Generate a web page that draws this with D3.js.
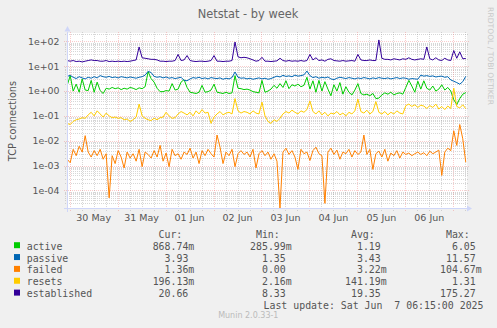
<!DOCTYPE html>
<html>
<head>
<meta charset="utf-8">
<script src="https://cdn.jsdelivr.net/npm/d3@7"></script>
<style>
  body { margin: 0; background: #f0f0f0; }
  svg { display: block; }
</style>
</head>
<body>
<svg id="chart" width="497" height="328"></svg>
<script>
// ---- series (samples every 90 minutes, ending at the last update) ----
const seriesNames  = ["active", "passive", "failed", "resets", "established"];
const seriesColors = ["#00CC00", "#0066B3", "#FF8000", "#FFCC00", "#330099"];
const sampleStart = Date.UTC(2025, 4, 29, 22, 45);
const sampleStepMinutes = 90;

const active = [1.7,4.2,1.0,1.9,0.9,3.1,1.1,1.05,2.7,0.9,
  2.3,1.05,0.8,1.3,1.2,1.4,1.25,1.35,1.15,1.3,
  1.2,1.4,1.3,1.15,1.35,1.25,1.5,6.05,3.2,2.3,
  1.3,0.95,0.95,1.05,1.0,2.0,1.1,1.2,2.3,2.9,
  1.4,0.9,0.85,0.8,0.9,1.7,0.9,0.95,1.1,1.9,
  0.9,0.85,0.8,0.9,0.8,0.85,4.2,1.3,1.25,1.15,
  1.2,1.1,0.95,0.9,0.85,2.7,0.9,1.0,1.2,1.7,
  1.3,2.0,1.4,2.6,1.25,1.8,1.6,1.9,1.5,1.7,
  3.6,1.2,2.6,0.9,2.7,1.0,2.4,1.2,0.65,1.8,
  1.0,2.2,0.75,1.5,0.9,0.7,1.1,2.0,0.8,0.7,
  0.75,0.65,0.8,0.5,0.52,0.7,0.85,0.75,0.9,0.7,
  0.8,0.85,0.75,1.4,2.7,1.6,0.9,2.5,1.2,2.6,
  1.3,1.1,1.6,1.0,1.2,1.8,1.1,1.4,1.0,0.45,
  0.286,0.5,0.75,0.86874];

const passive = [3.9,4.3,3.6,3.2,3.8,3.4,3.1,3.6,3.3,3.8,
  3.4,4.2,3.8,3.6,3.9,3.5,3.7,3.4,3.8,3.6,
  3.4,3.7,3.5,3.3,3.6,3.8,4.4,6.2,5.6,3.9,
  3.6,3.8,3.4,3.7,3.3,3.5,3.2,3.4,3.6,2.7,
  2.6,3.1,3.5,3.3,3.6,3.2,3.4,3.1,3.5,3.3,
  3.2,3.4,3.0,3.3,3.1,3.5,5.9,3.6,3.3,3.4,
  3.1,3.3,3.0,3.2,3.4,3.1,3.3,3.0,3.2,3.6,
  4.0,3.7,4.3,3.9,4.1,3.8,4.4,4.0,4.2,4.5,
  6.4,4.2,3.5,3.8,3.3,3.6,3.4,3.7,3.1,2.9,
  3.3,3.6,3.4,3.2,3.5,3.3,3.1,3.4,3.2,3.5,
  3.3,3.1,3.4,3.2,3.5,3.3,3.2,3.4,3.1,3.3,
  3.5,3.2,3.4,3.3,3.0,3.2,3.1,3.0,4.4,4.0,
  4.2,3.9,4.1,3.7,3.9,4.0,3.6,3.8,2.8,2.5,
  2.2,1.9,2.4,3.93];

const failed = [0.0018,0.0013,0.0045,0.0025,0.006,0.0035,0.016,0.0035,0.0022,0.004,
  0.0025,0.0045,0.0018,0.003,0.00005,0.0025,0.0012,0.004,0.0022,0.0008,
  0.0035,0.002,0.003,0.0015,0.0045,0.0009,0.0035,0.0028,0.002,0.004,
  0.0022,0.0065,0.0015,0.0032,0.0009,0.0045,0.0025,0.003,0.0018,0.0035,
  0.0028,0.005,0.002,0.0035,0.0012,0.004,0.0025,0.0045,0.003,0.0022,
  0.017,0.0055,0.0012,0.0035,0.0025,0.0045,0.0009,0.003,0.004,0.0028,
  0.0035,0.0022,0.0045,0.0008,0.003,0.004,0.0025,0.0035,0.0018,0.003,
  0.0015,0,0.0035,0.005,0.0028,0.004,0.0022,0.0007,0.0045,0.003,
  0.0035,0.0016,0.004,0.0055,0.003,0.0025,0.00003,0.0035,0.005,0.0028,
  0.0042,0.0018,0.0035,0.003,0.0045,0.0022,0.004,0.0028,0.0035,0.017,
  0.0028,0.0045,0.0007,0.003,0.0038,0.0022,0.0045,0.0015,0.0032,0.0025,
  0.004,0.002,0.0035,0.0028,0.0032,0.0025,0.003,0.0035,0.0028,0.0033,
  0.0025,0.0038,0.003,0.0035,0.0042,0.0004,0.0035,0.005,0.004,0.025,
  0.0065,0.045,0.012,0.00136];

const resets = [0.05,0.045,0.06,0.07,0.075,0.085,0.08,0.11,0.14,0.1,
  0.16,0.12,0.09,0.13,0.1,0.085,0.09,0.08,0.085,0.07,
  0.075,0.06,0.07,0.09,0.3,0.1,0.08,0.07,0.065,0.08,
  0.07,0.085,0.09,0.14,0.1,0.08,0.085,0.12,0.15,0.13,
  0.11,0.14,0.1,0.16,0.12,0.18,0.13,0.14,0.05,0.09,
  0.12,0.15,0.11,0.13,0.14,0.12,0.5,0.16,0.13,0.15,
  0.14,0.12,0.16,0.13,0.12,0.36,0.1,0.06,0.05,0.07,
  0.06,0.08,0.12,0.15,0.13,0.17,0.14,0.12,0.16,0.14,
  0.18,0.4,0.15,0.12,0.16,0.11,0.14,0.1,0.13,0.12,
  0.15,0.11,0.13,0.1,0.14,0.12,0.16,0.48,0.15,0.13,
  0.17,0.12,0.15,0.38,0.14,0.12,0.15,0.11,0.14,0.12,
  0.16,0.13,0.12,0.26,0.3,0.24,0.28,0.22,0.27,0.25,
  0.2,0.26,0.22,0.3,0.19,0.24,0.18,0.25,0.2,1.31,
  0.24,0.21,0.28,0.19613];

const established = [17,16,17,15.5,16,15,16,17,18,17,
  17,16,16,17,15.5,16,15.5,16,15.5,16,
  15.5,16,17,18,60,22,21,20,19,19,
  18,16,16,15.5,16,16,17,30,17,18,
  27,17,16,15.5,16,16,15.5,16,17,27,
  16,16,15.5,16,16,17,95,24,22,23,
  22,20,18,16,17,23,16,16,15.5,16,
  16.5,21,17,16,17,16,16.5,16,17,16,
  17,30,18,22,17,18,16,19,20,17,
  16.5,16,17,16,16.5,17,16,30,18,17,
  17,18,17,17,115,21,19,19,18,20,
  19,18,20,19,22,19,18,19,20,19,
  60,20,18,22,18,17,21,18,17,43,
  21,38,20,20.66];

// ---- legend statistics ----
const legendHeaders = ["Cur:", "Min:", "Avg:", "Max:"];
const legendMin = ["285.99m", "1.35", "0.00", "2.16m", "8.33"];
const legendAvg = ["1.19", "3.43", "3.22m", "141.19m", "19.35"];
const legendMax = ["6.05", "11.57", "104.67m", "1.31", "175.27"];

// ---- axis ticks ----
const yTickValues = [1e2, 1e1, 1e0, 1e-1, 1e-2, 1e-3, 1e-4];
const yTickLabels = ["1e+02", "1e+01", "1e+00", "1e-01", "1e-02", "1e-03", "1e-04"];
const xLabelDays = ["2025-05-30", "2025-05-31", "2025-06-01", "2025-06-02",
                    "2025-06-03", "2025-06-04", "2025-06-05", "2025-06-06"];

const titleText = "Netstat - by week";
const yAxisTitle = "TCP connections";
const lastUpdate = "Last update: Sat Jun  7 06:15:00 2025";
const sideNote = "RRDTOOL / TOBI OETIKER";
const footer = "Munin 2.0.33-1";

// ---- layout ----
const svg = d3.select("#chart");
const W = 497, H = 328;
const plot = { left: 67, right: 467, top: 33.5, bottom: 208.5 };
const sansFont = "'DejaVu Sans', sans-serif";
const monoFont = "'DejaVu Sans Mono', monospace";
const textColor = "#555";
const axisColor = "#CFD6F8";

svg.append("rect").attr("width", W).attr("height", H).attr("fill", "#f0f0f0");
svg.append("rect")
  .attr("x", plot.left).attr("y", plot.top - 0.5)
  .attr("width", plot.right - plot.left).attr("height", plot.bottom - plot.top + 0.5)
  .attr("fill", "#ffffff");

const x = d3.scaleUtc()
  .domain([Date.UTC(2025, 4, 29, 22, 39), Date.UTC(2025, 5, 7, 6, 52)])
  .range([plot.left, plot.right]);
const y = d3.scaleLog()
  .domain([Math.pow(10, -4.73), Math.pow(10, 2.32)])
  .range([plot.bottom, plot.top]);

// ---- grid ----
const grid = svg.append("g").attr("shape-rendering", "crispEdges");
const minorGrid = "rgba(150,150,150,0.38)";
const majorGrid = "rgba(240,110,110,0.35)";

// horizontal: 2..9 minor lines in each decade, decades as major lines
for (let k = -5; k <= 2; k++) {
  for (let m = 2; m <= 9; m++) {
    const v = m * Math.pow(10, k);
    const yy = y(v);
    if (yy < plot.top || yy > plot.bottom) continue;
    const py = Math.round(yy) + 0.5;
    grid.append("line").attr("x1", plot.left - 2).attr("x2", plot.right + 2)
      .attr("y1", py).attr("y2", py)
      .attr("stroke", minorGrid).attr("stroke-dasharray", "1,1");
  }
}
yTickValues.forEach(v => {
  const py = Math.round(y(v)) + 0.5;
  grid.append("line").attr("x1", plot.left - 3).attr("x2", plot.right + 3)
    .attr("y1", py).attr("y2", py)
    .attr("stroke", majorGrid).attr("stroke-dasharray", "1,1");
});

// vertical: every 6 hours minor, midnight major
const sixHours = d3.utcHour.every(6).range(x.domain()[0], x.domain()[1]);
sixHours.forEach(t => {
  const px = Math.round(x(t)) + 0.5;
  const isMidnight = t.getUTCHours() === 0;
  grid.append("line").attr("x1", px).attr("x2", px)
    .attr("y1", plot.top - 2).attr("y2", plot.bottom + (isMidnight ? 3 : 2))
    .attr("stroke", isMidnight ? majorGrid : minorGrid)
    .attr("stroke-dasharray", "1,1");
});

// ---- series lines ----
svg.append("clipPath").attr("id", "plotClip")
  .append("rect").attr("x", plot.left).attr("y", plot.top - 0.5)
  .attr("width", plot.right - plot.left + 1).attr("height", plot.bottom - plot.top + 1);

const seriesData = [active, passive, failed, resets, established];
const floorValue = y.domain()[0];
const line = d3.line()
  .x((d, i) => x(new Date(sampleStart + i * sampleStepMinutes * 60000)))
  .y(d => y(Math.max(d, floorValue)));

const lines = svg.append("g").attr("clip-path", "url(#plotClip)");
seriesData.forEach((values, s) => {
  lines.append("path")
    .datum(values)
    .attr("d", line)
    .attr("fill", "none")
    .attr("stroke", seriesColors[s])
    .attr("stroke-width", 1)
    .attr("stroke-linejoin", "round");
});

// ---- axes ----
const axes = svg.append("g").attr("shape-rendering", "crispEdges");
axes.append("line").attr("x1", plot.left - 3).attr("x2", plot.right + 1)
  .attr("y1", plot.bottom).attr("y2", plot.bottom).attr("stroke", axisColor);
axes.append("line").attr("x1", plot.left + 0.5).attr("x2", plot.left + 0.5)
  .attr("y1", plot.bottom + 3).attr("y2", plot.top - 2).attr("stroke", axisColor);
svg.append("path")
  .attr("d", `M${plot.right},${plot.bottom - 3}L${plot.right + 5},${plot.bottom}L${plot.right},${plot.bottom + 3}Z`)
  .attr("fill", axisColor);
svg.append("path")
  .attr("d", `M${plot.left + 0.5 - 3},${plot.top - 2}L${plot.left + 0.5},${plot.top - 7.5}L${plot.left + 0.5 + 3},${plot.top - 2}Z`)
  .attr("fill", axisColor);

// y tick labels
svg.append("g").selectAll("text")
  .data(yTickValues)
  .join("text")
  .attr("x", 59.5)
  .attr("y", d => y(d) + 3.4)
  .attr("text-anchor", "end")
  .attr("font-family", sansFont)
  .attr("font-size", 9.4)
  .attr("fill", textColor)
  .text((d, i) => yTickLabels[i]);

// x tick labels at noon of each day
const dayFormat = d3.utcFormat("%d %b");
svg.append("g").selectAll("text")
  .data(xLabelDays)
  .join("text")
  .attr("x", d => x(new Date(Date.parse(d + "T12:00:00Z"))))
  .attr("y", 221)
  .attr("text-anchor", "middle")
  .attr("font-family", sansFont)
  .attr("font-size", 9.5)
  .attr("fill", textColor)
  .text(d => dayFormat(new Date(Date.parse(d + "T00:00:00Z"))));

// title and axis title
svg.append("text")
  .attr("x", 248).attr("y", 18)
  .attr("text-anchor", "middle")
  .attr("font-family", sansFont).attr("font-size", 11.4)
  .attr("fill", "#666")
  .text(titleText);

svg.append("text")
  .attr("transform", `translate(15.5,${(plot.top + plot.bottom) / 2}) rotate(-90)`)
  .attr("text-anchor", "middle")
  .attr("font-family", sansFont).attr("font-size", 9.8)
  .attr("fill", textColor)
  .text(yAxisTitle);

svg.append("text")
  .attr("transform", "translate(487.5,56) rotate(90)")
  .attr("text-anchor", "middle")
  .attr("font-family", sansFont).attr("font-size", 7.6)
  .attr("fill", "#c8c8c8")
  .text(sideNote);

// ---- legend ----
const charW = 5.96;
const colRight = [194.3, 291.7, 386.7, 481.7];
const rowBase = 249.7, rowStep = 11.85;
const fmtCur = v => v < 1 ? (v * 1000).toFixed(2) + "m" : v.toFixed(2);
const legendCur = seriesData.map(vals => fmtCur(vals[vals.length - 1]));
const columns = [legendCur, legendMin, legendAvg, legendMax];

const legend = svg.append("g")
  .attr("font-family", monoFont).attr("font-size", 9.9).attr("fill", textColor);

legendHeaders.forEach((h, c) => {
  legend.append("text")
    .attr("x", colRight[c] - 6 * charW).attr("y", rowBase - rowStep)
    .text(h);
});

seriesNames.forEach((name, r) => {
  const base = rowBase + r * rowStep;
  legend.append("rect")
    .attr("x", 14).attr("y", base - 7.5)
    .attr("width", 6).attr("height", 6)
    .attr("fill", seriesColors[r]);
  legend.append("text").attr("x", 26.7).attr("y", base).text(name);
  columns.forEach((col, c) => {
    const s = col[r];
    const hasSuffix = /[a-zA-Z]$/.test(s);
    legend.append("text")
      .attr("x", colRight[c] - (hasSuffix ? 0 : charW))
      .attr("y", base)
      .attr("text-anchor", "end")
      .text(s);
  });
});

legend.append("text")
  .attr("x", 483.5).attr("y", rowBase + 5 * rowStep)
  .attr("text-anchor", "end")
  .style("white-space", "pre")
  .text(lastUpdate);

svg.append("text")
  .attr("x", 248.3).attr("y", 317.5)
  .attr("text-anchor", "middle")
  .attr("font-family", sansFont).attr("font-size", 8)
  .attr("fill", "#bbbbbb")
  .text(footer);
</script>
</body>
</html>
